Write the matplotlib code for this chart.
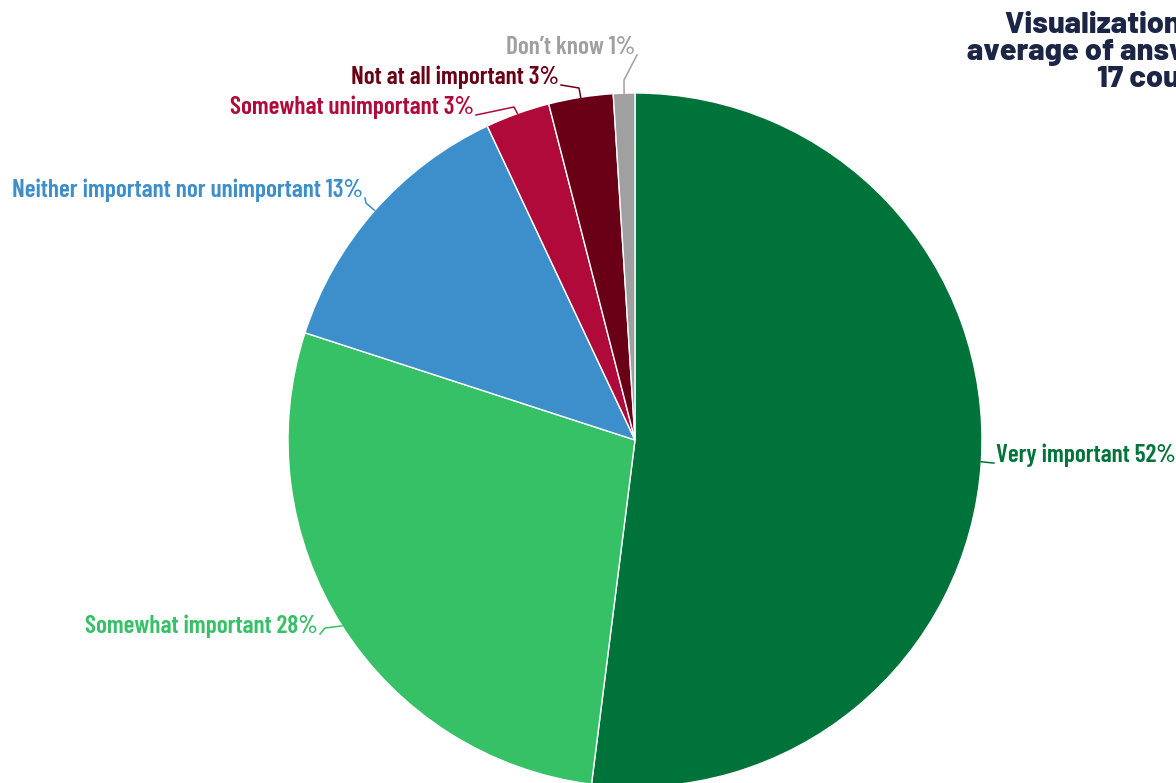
import numpy as np
import matplotlib
matplotlib.use("Agg")
import matplotlib.pyplot as plt
from matplotlib import font_manager

categories = ["Very important", "Somewhat important", "Neither important nor unimportant",
              "Somewhat unimportant", "Not at all important", "Don\u2019t know"]
shares = [52, 28, 13, 3, 3, 1]
colors = ["#00733a", "#36c167", "#3d8fcc", "#b00a3a", "#6a0016", "#a0a0a0"]
title_lines = ["Visualization of the", "average of answers across", "17 countries"]

names = {f.name for f in font_manager.fontManager.ttflist}
if "Barlow Condensed" in names:
    label_font = dict(family=["Barlow Condensed", "DejaVu Sans"], fontsize=18.2, fontweight=600)
else:
    label_font = dict(family=["DejaVu Sans"], fontsize=12, fontweight="bold")
if "Barlow" in names:
    title_font = dict(family=["Barlow", "DejaVu Sans"], fontsize=22, fontweight=800)
else:
    title_font = dict(family=["DejaVu Sans"], fontsize=16, fontweight="bold")

W, H = 1176, 783
fig = plt.figure(figsize=(W / 100, H / 100), dpi=100)
ax = fig.add_axes([0, 0, 1, 1])

cx, cy, r = 635, H - 440, 347
wedges, _ = ax.pie(shares, colors=colors, startangle=90, counterclock=False,
                   center=(cx, cy), radius=r,
                   wedgeprops=dict(edgecolor="white", linewidth=1.0))
ax.set_xlim(0, W)
ax.set_ylim(0, H)
ax.set_aspect("equal")
ax.axis("off")

# text anchor (pixels from top-left), alignment, elbow point
label_pos = [(996, 455, "left", (993, 463)), (318, 626, "right", (325, 628)),
             (363, 190, "right", (366, 203)), (474, 107, "right", (514, 107)),
             (559, 77, "right", (579, 88)), (635, 47, "right", (624, 80))]

for w, cat, val, col, (tx, ty, ha, (bx, by)) in zip(wedges, categories, shares, colors, label_pos):
    mid = np.deg2rad((w.theta1 + w.theta2) / 2)
    ex, ey = cx + r * np.cos(mid), cy + r * np.sin(mid)
    lx = tx + (2 if ha == "right" else -2)
    ax.plot([ex, bx, lx], [ey, H - by, H - ty - 8], color=col, lw=1.1)
    ax.text(tx, H - ty, f"{cat} {val}%", color=col, ha=ha, va="center", **label_font)

# title lines: left edge and baseline in pixels (the title runs past the right edge)
title_pos = [(1005, 33), (967, 60), (1097, 87)]
for line, (tx, ty) in zip(title_lines, title_pos):
    ax.text(tx, H - ty, line, color="#1b2545", ha="left", va="baseline", **title_font)

fig.savefig("out.png", dpi=100)
